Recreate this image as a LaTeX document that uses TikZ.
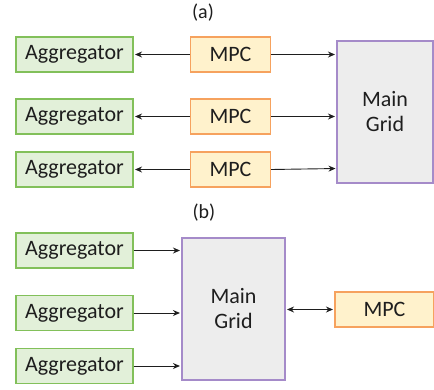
\documentclass[tikz,border=0pt]{standalone}
\usepackage{fontspec}
\setmainfont{Carlito}
\usetikzlibrary{arrows.meta}
\definecolor{aggfill}{HTML}{E2F0D9}
\definecolor{aggdraw}{HTML}{82C05A}
\definecolor{mpcfill}{HTML}{FFF2CC}
\definecolor{mpcdraw}{HTML}{F6A25E}
\definecolor{gridfill}{HTML}{EDEDED}
\definecolor{griddraw}{HTML}{A58BC9}
\definecolor{linecol}{HTML}{1E1E1E}
\begin{document}
\begin{tikzpicture}[x=1pt,y=-1pt,
  every node/.style={inner sep=0pt, font=\fontsize{22}{25}\selectfont, text=linecol},
  aggbox/.style={draw=aggdraw, fill=aggfill, line width=1.1pt, minimum width=117pt, minimum height=35pt},
  mpcbox/.style={draw=mpcdraw, fill=mpcfill, line width=1.1pt, minimum height=35pt},
  gridbox/.style={draw=griddraw, fill=gridfill, line width=1.1pt, align=center},
  lbl/.style={font=\fontsize{20}{22}\selectfont},
  conn/.style={draw=linecol, line width=0.9pt, -{Stealth[length=7pt,width=6pt]}, shorten >=1.5pt},
  bconn/.style={draw=linecol, line width=0.9pt, {Stealth[length=7pt,width=6pt]}-{Stealth[length=7pt,width=6pt]}, shorten >=1.5pt, shorten <=1.5pt}
]
\useasboundingbox (0,0) rectangle (434,389);
\clip (0,0) rectangle (434,389);
% (a)
\node[lbl] (la) at (203,13) {(a)};
\node[aggbox] (a1) at (74.5,54.5) {Aggregator};
\node[aggbox] (a2) at (74.5,116.5) {Aggregator};
\node[aggbox] (a3) at (74.5,169.5) {Aggregator};
\node[mpcbox, minimum width=80pt] (m1) at (230.5,54.5) {MPC};
\node[mpcbox, minimum width=80pt] (m2) at (230.5,116.5) {MPC};
\node[mpcbox, minimum width=80pt] (m3) at (230.5,169.5) {MPC};
\node[gridbox, minimum width=96pt, minimum height=142pt] (g1) at (385,112) {Main\\Grid};
\coordinate (g1c) at (337,168.5);
\draw[conn] (m1.west) -- (a1.east);
\draw[conn] (m2.west) -- (a2.east);
\draw[conn] (m3.west) -- (a3.east);
\draw[conn] (m1.east) -- (m1.east -| g1.west);
\draw[conn] (m2.east) -- (m2.east -| g1.west);
\draw[conn] (m3.east) -- (g1c);
% (b)
\node[lbl] (lb) at (204,213) {(b)};
\node[aggbox] (b1) at (74.5,250.5) {Aggregator};
\node[aggbox] (b2) at (74.5,313) {Aggregator};
\node[aggbox] (b3) at (74.5,366) {Aggregator};
\node[gridbox, minimum width=103pt, minimum height=142pt] (g2) at (233.5,309) {Main\\Grid};
\node[mpcbox, minimum width=99pt] (m4) at (384.5,309.5) {MPC};
\draw[conn] (b1.east) -- (b1.east -| g2.west);
\draw[conn] (b2.east) -- (b2.east -| g2.west);
\draw[conn] (b3.east) -- (b3.east -| g2.west);
\draw[bconn] (m4.west) -- (m4.west -| g2.east);
\end{tikzpicture}
\end{document}
